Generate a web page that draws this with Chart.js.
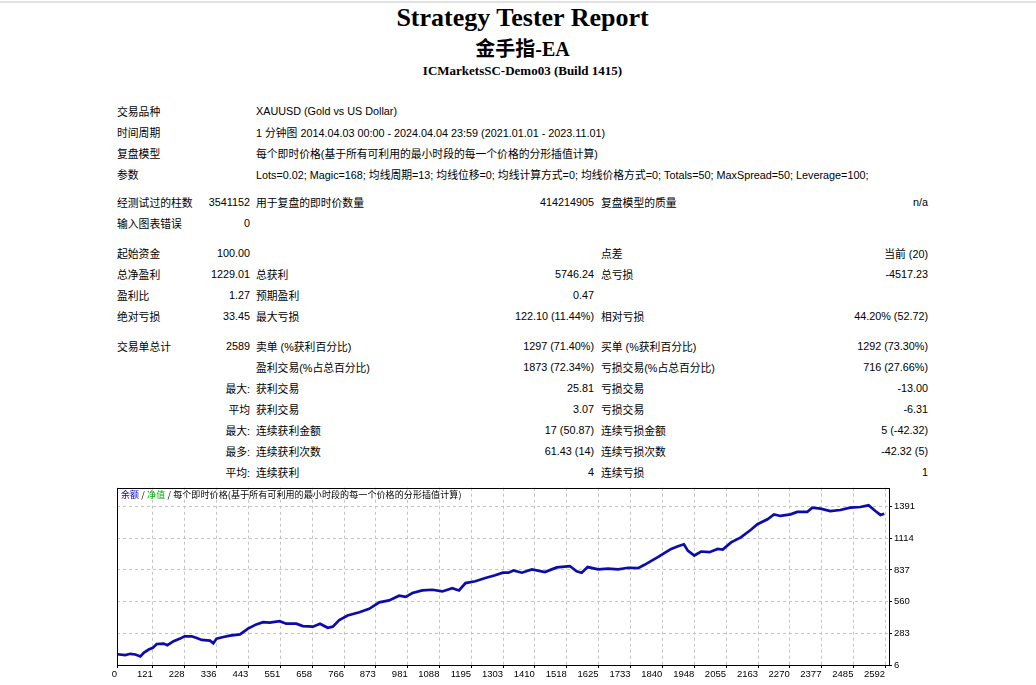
<!DOCTYPE html>
<html lang="zh">
<head>
<meta charset="utf-8">
<title>Strategy Tester Report</title>
<script src="https://cdn.jsdelivr.net/npm/chart.js@4.4.1/dist/chart.umd.min.js"></script>
<style>
    body {
        margin: 0;
        background: #fff;
        color: #000;
        overflow: hidden;
        font-family: 'Liberation Sans', 'Noto Sans CJK SC', sans-serif;
    }
    .top-line {
        position: absolute;
        left: 0;
        top: 1px;
        width: 1036px;
        height: 2px;
        background: #e2e2e2;
    }
    .header div {
        position: absolute;
        left: 117px;
        width: 811px;
        text-align: center;
        font-family: 'Liberation Serif', 'Noto Sans CJK SC', serif;
        font-weight: bold;
        white-space: nowrap;
    }
    .header .t1 { top: 3px; font-size: 26px; line-height: 30px; }
    .header .t2 { top: 36px; font-size: 20px; line-height: 26px; }
    .header .t3 { top: 63px; font-size: 13px; line-height: 16px; }

    table.report {
        position: absolute;
        left: 117px;
        top: 100px;
        width: 811px;
        border-collapse: collapse;
        table-layout: fixed;
        font-size: 10.8px;
    }
    table.report tr { height: 21px; }
    table.report tr.sep { height: 9px; }
    table.report tr.sep7 { height: 7px; }
    table.report td { padding: 0; white-space: nowrap; vertical-align: middle; }
    table.report td.v1 { text-align: right; padding-right: 3px; }
    table.report td.l2 { padding-left: 3px; }
    table.report td.v2 { text-align: right; padding-right: 3px; }
    table.report td.l3 { padding-left: 4px; }
    table.report td.v3 { text-align: right; }

    .chart-box {
        position: absolute;
        left: 105px;
        top: 480px;
        width: 820px;
        height: 204px;
    }
    .chart-caption {
        position: absolute;
        left: 121px;
        top: 489px;
        font-size: 9px;
        line-height: 12px;
        letter-spacing: 0.1px;
        font-family: 'Noto Sans CJK SC', sans-serif;
        white-space: nowrap;
        color: #000;
    }
    .chart-caption .bal { color: #0000c8; }
    .chart-caption .eq { color: #00b000; }
</style>
</head>
<body>
<div class="top-line"></div>
<div class="header">
    <div class="t1">Strategy Tester Report</div>
    <div class="t2">金手指-EA</div>
    <div class="t3">ICMarketsSC-Demo03 (Build 1415)</div>
</div>

<table class="report">
    <colgroup>
        <col style="width:88px"><col style="width:48px"><col style="width:197px">
        <col style="width:147px"><col style="width:183px"><col style="width:148px">
    </colgroup>
    <tr><td colspan="2">交易品种</td><td class="l2" colspan="4">XAUUSD (Gold vs US Dollar)</td></tr>
    <tr><td colspan="2">时间周期</td><td class="l2" colspan="4">1 分钟图 2014.04.03 00:00 - 2024.04.04 23:59 (2021.01.01 - 2023.11.01)</td></tr>
    <tr><td colspan="2">复盘模型</td><td class="l2" colspan="4">每个即时价格(基于所有可利用的最小时段的每一个价格的分形插值计算)</td></tr>
    <tr><td colspan="2">参数</td><td class="l2" colspan="4">Lots=0.02; Magic=168; 均线周期=13; 均线位移=0; 均线计算方式=0; 均线价格方式=0; Totals=50; MaxSpread=50; Leverage=100;</td></tr>
    <tr class="sep7"><td colspan="6"></td></tr>
    <tr><td>经测试过的柱数</td><td class="v1">3541152</td><td class="l2">用于复盘的即时价数量</td><td class="v2">414214905</td><td class="l3">复盘模型的质量</td><td class="v3">n/a</td></tr>
    <tr><td>输入图表错误</td><td class="v1">0</td><td></td><td></td><td></td><td></td></tr>
    <tr class="sep"><td colspan="6"></td></tr>
    <tr><td>起始资金</td><td class="v1">100.00</td><td></td><td></td><td class="l3">点差</td><td class="v3">当前 (20)</td></tr>
    <tr><td>总净盈利</td><td class="v1">1229.01</td><td class="l2">总获利</td><td class="v2">5746.24</td><td class="l3">总亏损</td><td class="v3">-4517.23</td></tr>
    <tr><td>盈利比</td><td class="v1">1.27</td><td class="l2">预期盈利</td><td class="v2">0.47</td><td></td><td></td></tr>
    <tr><td>绝对亏损</td><td class="v1">33.45</td><td class="l2">最大亏损</td><td class="v2">122.10 (11.44%)</td><td class="l3">相对亏损</td><td class="v3">44.20% (52.72)</td></tr>
    <tr class="sep"><td colspan="6"></td></tr>
    <tr><td>交易单总计</td><td class="v1">2589</td><td class="l2">卖单 (%获利百分比)</td><td class="v2">1297 (71.40%)</td><td class="l3">买单 (%获利百分比)</td><td class="v3">1292 (73.30%)</td></tr>
    <tr><td></td><td></td><td class="l2">盈利交易(%占总百分比)</td><td class="v2">1873 (72.34%)</td><td class="l3">亏损交易(%占总百分比)</td><td class="v3">716 (27.66%)</td></tr>
    <tr><td></td><td class="v1">最大:</td><td class="l2">获利交易</td><td class="v2">25.81</td><td class="l3">亏损交易</td><td class="v3">-13.00</td></tr>
    <tr><td></td><td class="v1">平均</td><td class="l2">获利交易</td><td class="v2">3.07</td><td class="l3">亏损交易</td><td class="v3">-6.31</td></tr>
    <tr><td></td><td class="v1">最大:</td><td class="l2">连续获利金额</td><td class="v2">17 (50.87)</td><td class="l3">连续亏损金额</td><td class="v3">5 (-42.32)</td></tr>
    <tr><td></td><td class="v1">最多:</td><td class="l2">连续获利次数</td><td class="v2">61.43 (14)</td><td class="l3">连续亏损次数</td><td class="v3">-42.32 (5)</td></tr>
    <tr><td></td><td class="v1">平均:</td><td class="l2">连续获利</td><td class="v2">4</td><td class="l3">连续亏损</td><td class="v3">1</td></tr>
</table>

<div class="chart-box"><canvas id="balance-chart"></canvas></div>
<div class="chart-caption"><span class="bal">余额</span> / <span class="eq">净值</span> / 每个即时价格(基于所有可利用的最小时段的每一个价格的分形插值计算)</div>

<script>
// so thu tu giao dich (truc x)
const tradeNo = [
    0, 28, 45, 62, 79, 90, 107, 121, 134, 157, 170, 191, 213, 228, 252, 269, 286, 314, 325, 336,
    359, 381, 415, 442, 470, 493, 515, 549, 571, 605, 627, 661, 685, 711, 728, 750, 778, 818, 851, 885,
    918, 952, 974, 997, 1030, 1064, 1098, 1131, 1154, 1176, 1209, 1243, 1276, 1302, 1321, 1338, 1366, 1400, 1444, 1467,
    1484, 1528, 1551, 1568, 1588, 1624, 1657, 1691, 1725, 1758, 1780, 1803, 1825, 1848, 1870, 1893, 1913, 1926, 1948, 1971,
    1999, 2027, 2044, 2072, 2105, 2139, 2161, 2195, 2217, 2239, 2273, 2295, 2329, 2346, 2374, 2407, 2441, 2474, 2508, 2536,
    2559, 2576, 2589,
];
// so du (余额)
const balance = [
    100, 92, 104, 98, 81, 113, 141, 156, 190, 193, 179, 214, 237, 257, 257, 242, 225, 219, 196, 237,
    251, 263, 274, 324, 361, 381, 376, 389, 367, 367, 346, 341, 367, 332, 341, 398, 439, 467, 497, 554,
    571, 612, 601, 635, 658, 664, 649, 678, 658, 722, 738, 767, 790, 813, 813, 833, 813, 842, 819, 842,
    859, 871, 825, 813, 862, 842, 848, 842, 856, 853, 882, 917, 949, 986, 1021, 1044, 1061, 1006, 963, 998,
    992, 1021, 1015, 1078, 1122, 1188, 1237, 1280, 1323, 1309, 1323, 1344, 1344, 1382, 1373, 1352, 1361, 1382, 1387, 1402,
    1352, 1318, 1329.01,
];
// nhan truc
const xTickValues = [0, 121, 228, 336, 443, 551, 658, 766, 873, 981, 1088, 1195, 1303, 1410, 1518, 1625, 1733, 1840, 1948, 2055, 2163, 2270, 2377, 2485, 2592];
const yTickValues = [6, 283, 560, 837, 1114, 1391];

document.addEventListener('DOMContentLoaded', () => {
    renderBalanceChart();

    // khung den quanh vung ve
    function getFramePlugin() {
        return {
            id: 'frame',
            afterDraw(chart) {
                const { ctx, chartArea } = chart;
                ctx.save();
                ctx.strokeStyle = '#000';
                ctx.lineWidth = 1;
                ctx.setLineDash([]);
                ctx.strokeRect(
                    Math.round(chartArea.left) + 0.5,
                    Math.round(chartArea.top) + 0.5,
                    Math.round(chartArea.right - chartArea.left),
                    Math.round(chartArea.bottom - chartArea.top)
                );
                ctx.restore();
            },
        };
    }

    // ve bieu do so du
    function renderBalanceChart() {
        let vPoints = tradeNo.map((trade, i) => ({ x: trade, y: balance[i] }));
        let vTickFont = { family: 'Liberation Sans', size: 9.5 };
        let vGrid = {
            color: '#c4c4c4',
            drawTicks: true,
            tickLength: 3,
            tickColor: '#000',
            tickWidth: 1,
        };

        new Chart(document.getElementById('balance-chart'), {
            type: 'line',
            data: {
                datasets: [
                    {
                        label: '余额',
                        data: vPoints,
                        borderColor: '#0c0cae',
                        borderWidth: 2.7,
                        pointRadius: 0,
                        tension: 0,
                        fill: false,
                    },
                ],
            },
            options: {
                responsive: true,
                maintainAspectRatio: false,
                animation: false,
                layout: { padding: { left: 12, top: 7, right: 2, bottom: 2 } },
                plugins: {
                    legend: { display: false },
                    tooltip: { enabled: false },
                },
                scales: {
                    x: {
                        type: 'linear',
                        position: 'bottom',
                        min: 0,
                        max: 2605,
                        afterBuildTicks: (scale) => {
                            scale.ticks = xTickValues.map((v) => ({ value: v }));
                        },
                        afterFit: (scale) => {
                            scale.height = 17;
                        },
                        grid: vGrid,
                        border: { display: false, dash: [3, 3] },
                        ticks: {
                            font: vTickFont,
                            color: '#000',
                            padding: 1,
                            align: 'end',
                            autoSkip: false,
                            maxRotation: 0,
                            callback: (value) => String(value),
                        },
                    },
                    y: {
                        type: 'linear',
                        position: 'right',
                        min: 6,
                        max: 1556,
                        afterBuildTicks: (scale) => {
                            scale.ticks = yTickValues.map((v) => ({ value: v }));
                        },
                        afterFit: (scale) => {
                            scale.width = 34;
                        },
                        grid: vGrid,
                        border: { display: false, dash: [3, 3] },
                        ticks: {
                            font: vTickFont,
                            color: '#000',
                            padding: 2,
                            callback: (value) => String(value),
                        },
                    },
                },
            },
            plugins: [getFramePlugin()],
        });
    }
});
</script>
</body>
</html>
